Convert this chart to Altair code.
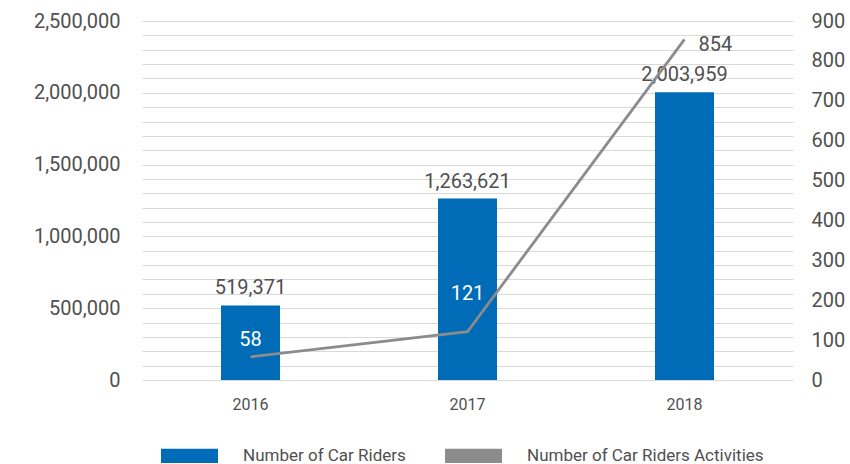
import altair as alt
import pandas as pd

years = ["2016", "2017", "2018"]
riders = [519371, 1263621, 2003959]
activities = [58, 121, 854]
series_names = ["Number of Car Riders", "Number of Car Riders Activities"]
left_ticks = list(range(0, 2500001, 100000))
right_ticks = list(range(0, 901, 100))

BLUE = "#006bb6"
GRAY = "#8c8c8c"
TEXT = "#505050"
FONT = "Roboto"

df = pd.DataFrame({
    "year": years,
    "riders": riders,
    "activities": activities,
    "series": [series_names[0]] * len(years),
})

x = alt.X("year:N", sort=years, title=None,
          scale=alt.Scale(paddingInner=0, paddingOuter=0),
          axis=alt.Axis(labelAngle=0, labelFontSize=16, labelColor=TEXT, labelFont=FONT,
                        labelPadding=16, ticks=False, domain=False))

left_axis = alt.Axis(values=left_ticks,
                     labelExpr="datum.value % 500000 == 0 ? format(datum.value, ',') : ''",
                     labelOverlap=False, labelFontSize=20, labelColor=TEXT, labelFont=FONT,
                     labelPadding=22, ticks=False, domain=False, grid=True,
                     gridColor="#d9d9d9", gridWidth=1.2)
left_scale = alt.Scale(domain=[0, 2500000], nice=False, zero=True)

right_axis = alt.Axis(values=right_ticks, orient="right", labelFontSize=20, labelColor=TEXT,
                      labelFont=FONT, labelPadding=18, ticks=False, domain=False, grid=False,
                      labelOverlap=False)
right_scale = alt.Scale(domain=[0, 900], nice=False, zero=True)

base = alt.Chart(df)

bars = base.mark_bar(size=59).encode(
    x=x,
    y=alt.Y("riders:Q", title=None, scale=left_scale, axis=left_axis),
    color=alt.Color("series:N", scale=alt.Scale(domain=series_names, range=[BLUE, GRAY]),
                    legend=alt.Legend(title=None, orient="none", direction="horizontal",
                                      legendX=19, legendY=406,
                                      symbolType="M-1,-0.25H1V0.25H-1Z", symbolSize=3249,
                                      symbolStrokeWidth=0, symbolOpacity=1,
                                      labelFontSize=17, labelColor=TEXT, labelFont=FONT,
                                      labelOffset=25, columnPadding=39, labelLimit=400)),
)

bar_text = base.mark_text(fontSize=20, color=TEXT, font=FONT, dy=-11, baseline="alphabetic").encode(
    x=x,
    y=alt.Y("riders:Q", title=None, scale=left_scale, axis=left_axis),
    text=alt.Text("riders:Q", format=","),
)

def ry():
    return alt.Y("activities:Q", title=None, scale=right_scale, axis=right_axis)

line = base.mark_line(color=GRAY, strokeWidth=2.8).encode(x=x, y=ry())

lab58 = base.transform_filter(alt.datum.year == "2016").mark_text(
    fontSize=20, color="white", font=FONT, dy=-17).encode(x=x, y=ry(), text="activities:Q")
lab121 = base.transform_filter(alt.datum.year == "2017").mark_text(
    fontSize=20, color="white", font=FONT, dy=-38).encode(x=x, y=ry(), text="activities:Q")
lab854 = base.transform_filter(alt.datum.year == "2018").mark_text(
    fontSize=20, color=TEXT, font=FONT, dx=14, dy=6, align="left").encode(x=x, y=ry(), text="activities:Q")

chart = alt.layer(
    alt.layer(bars, bar_text),
    alt.layer(line, lab58, lab121, lab854),
).resolve_scale(y="independent").properties(
    width=651, height=359,
    background="white",
    autosize=alt.AutoSizeParams(type="none"),
    padding={"left": 142, "top": 21, "right": 57, "bottom": 84},
).configure_view(stroke=None)

chart.save("out.html", embed_options={"renderer": "svg", "actions": False})
